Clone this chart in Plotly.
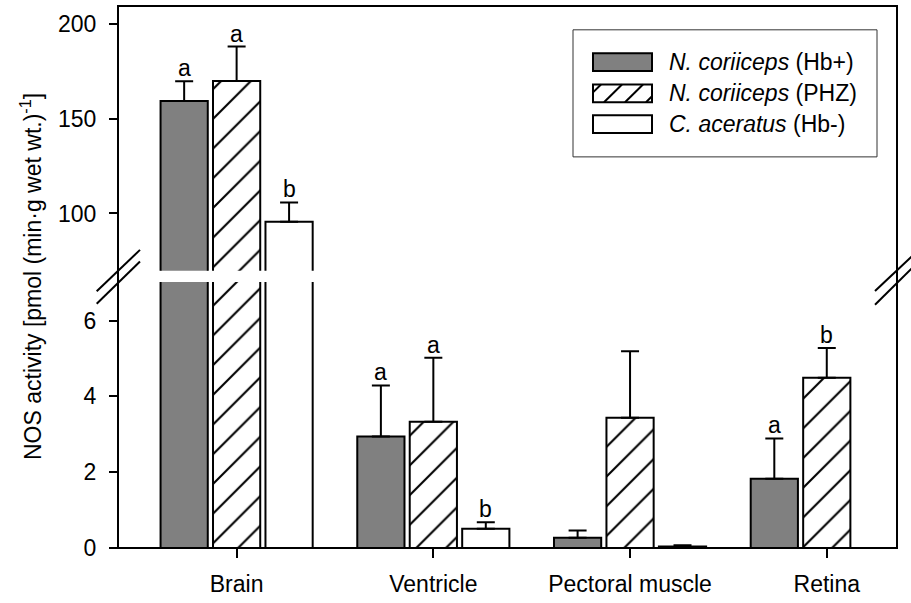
import plotly.graph_objects as go

# ---------------- data ----------------
categories = ["Brain", "Ventricle", "Pectoral muscle", "Retina"]
series_names = ["<i>N. coriiceps</i> (Hb+)", "<i>N. coriiceps</i> (PHZ)", "<i>C. aceratus</i> (Hb-)"]
hb_plus = [159.4, 2.94, 0.27, 1.83]
hb_plus_err = [10.5, 1.35, 0.19, 1.06]
phz = [170.0, 3.33, 3.44, 4.49]
phz_err = [18.2, 1.69, 1.75, 0.79]
hb_minus = [95.6, 0.51, 0.04, None]
hb_minus_err = [10.2, 0.17, 0.03, None]
letters_hb_plus = ["a", "a", "", "a"]
letters_phz = ["a", "a", "", "b"]
letters_hb_minus = ["b", "b", "", ""]
yticks_low = [0, 2, 4, 6]
yticks_high = [100, 150, 200]

# ---------------- layout geometry ----------------
W, H = 911, 603
ML, MR, MT, MB = 118, 14, 6, 51
PW, PH = W - ML - MR, H - MT - MB
LOW_RANGE = [0, 7.02]
HIGH_RANGE = [69.7, 209.6]
LOW_DOM = [0, 0.4908]
HIGH_DOM = [0.5114, 1]
BREAK = 7.02
BARGAP = 0.2
FONT = "Liberation Sans, Arial, sans-serif"
FS = 23


def px(x):
    return (x - ML) / PW


def py(y):
    return (H - MB - y) / PH


x_idx = list(range(len(categories)))
series = [
    (hb_plus, hb_plus_err, letters_hb_plus, dict(color="#808080")),
    (phz, phz_err, letters_phz, dict(color="white", pattern=dict(shape="/", fgcolor="black", bgcolor="white", size=21, solidity=0.1, fillmode="replace"))),
    (hb_minus, hb_minus_err, letters_hb_minus, dict(color="white")),
]

fig = go.Figure()
for yax in ["y", "y2"]:
    for k, (vals, errs, _, mk) in enumerate(series):
        m = dict(mk)
        m["line"] = dict(color="black", width=2)
        fig.add_trace(go.Bar(
            x=x_idx, y=vals, name=series_names[k], xaxis="x", yaxis=yax,
            marker=m, showlegend=False, hoverinfo="skip",
            error_y=dict(type="data", array=errs, symmetric=False,
                         arrayminus=[0] * len(vals), color="black",
                         thickness=2, width=9),
        ))

annotations = []
nser = len(series)
slot = (1 - BARGAP) / nser
for k, (vals, errs, lets, _) in enumerate(series):
    for i in x_idx:
        if not lets[i] or vals[i] is None:
            continue
        top = vals[i] + (errs[i] or 0)
        annotations.append(dict(
            x=i + (k - (nser - 1) / 2) * slot, y=top,
            xref="x", yref="y2" if top > BREAK else "y",
            text=lets[i], showarrow=False, yanchor="bottom", xanchor="center",
            font=dict(family=FONT, size=FS, color="black"), yshift=-2,
        ))

# y axis title
annotations.append(dict(
    x=px(31), y=py(279), xref="paper", yref="paper",
    text="NOS activity [pmol (min·g wet wt.)<sup>-1</sup>]",
    textangle=-90, showarrow=False, xanchor="center", yanchor="middle",
    font=dict(family=FONT, size=FS, color="black"),
))

shapes = []
# frame
shapes.append(dict(type="rect", xref="paper", yref="paper", x0=0, x1=1, y0=0, y1=1,
                   line=dict(color="black", width=2), layer="above"))
# break marks
for (x0, y0, x1, y1) in [(96.7, 293.3, 140, 251.7), (96.7, 306, 140, 263.3),
                         (875, 293, 912, 258), (875, 307, 912, 270)]:
    shapes.append(dict(type="line", xref="paper", yref="paper",
                       x0=px(x0), y0=py(y0), x1=px(x1), y1=py(y1),
                       line=dict(color="black", width=2)))

# manual legend
shapes.append(dict(type="rect", xref="paper", yref="paper",
                   x0=px(573), x1=px(877), y0=py(158), y1=py(30),
                   line=dict(color="#333333", width=1), fillcolor="white", layer="above"))
row_y = [62.5, 94, 125]
sx0, sx1, sh = 593, 652, 18
fills = ["#808080", "white", "white"]
for r, cy in enumerate(row_y):
    y0, y1 = cy - sh / 2, cy + sh / 2
    shapes.append(dict(type="rect", xref="paper", yref="paper",
                       x0=px(sx0), x1=px(sx1), y0=py(y1), y1=py(y0),
                       line=dict(color="black", width=2), fillcolor=fills[r], layer="above"))
    if r == 1:
        c = sx0 + y0 + 8
        while c < sx1 + y1:
            xa = max(sx0, c - y1)
            xb = min(sx1, c - y0)
            if xb > xa:
                shapes.append(dict(type="line", xref="paper", yref="paper",
                                   x0=px(xa), y0=py(c - xa), x1=px(xb), y1=py(c - xb),
                                   line=dict(color="black", width=2), layer="above"))
            c += 21
    annotations.append(dict(
        x=px(667), y=py(cy), xref="paper", yref="paper", text=series_names[r],
        showarrow=False, xanchor="left", yanchor="middle",
        font=dict(family=FONT, size=FS, color="black"),
    ))

fig.update_layout(
    width=W, height=H,
    margin=dict(l=ML, r=MR, t=MT, b=MB, pad=0),
    plot_bgcolor="white", paper_bgcolor="white",
    barmode="group", bargap=BARGAP, bargroupgap=0.1,
    showlegend=False,
    font=dict(family=FONT, size=FS, color="black"),
    xaxis=dict(range=[-0.603, 3.357], tickvals=x_idx, ticktext=categories,
               ticks="outside", ticklen=9, tickwidth=2, tickcolor="black",
               showgrid=False, zeroline=False, showline=False, anchor="y",
               ticklabelstandoff=6,
               tickfont=dict(family=FONT, size=FS, color="black")),
    yaxis=dict(domain=LOW_DOM, range=LOW_RANGE, tickvals=yticks_low,
               ticks="outside", ticklen=8, tickwidth=2, tickcolor="black",
               showgrid=False, zeroline=False, showline=False, anchor="x",
               ticklabelstandoff=8,
               tickfont=dict(family=FONT, size=FS, color="black")),
    yaxis2=dict(domain=HIGH_DOM, range=HIGH_RANGE, tickvals=yticks_high,
                ticks="outside", ticklen=8, tickwidth=2, tickcolor="black",
                showgrid=False, zeroline=False, showline=False, anchor="x",
                ticklabelstandoff=8,
                tickfont=dict(family=FONT, size=FS, color="black")),
    annotations=annotations,
    shapes=shapes,
    hovermode=False,
)

fig.write_html("out.html", config={"displayModeBar": False, "staticPlot": True},
               post_script="document.body.style.margin='0';document.body.style.overflow='hidden';")
